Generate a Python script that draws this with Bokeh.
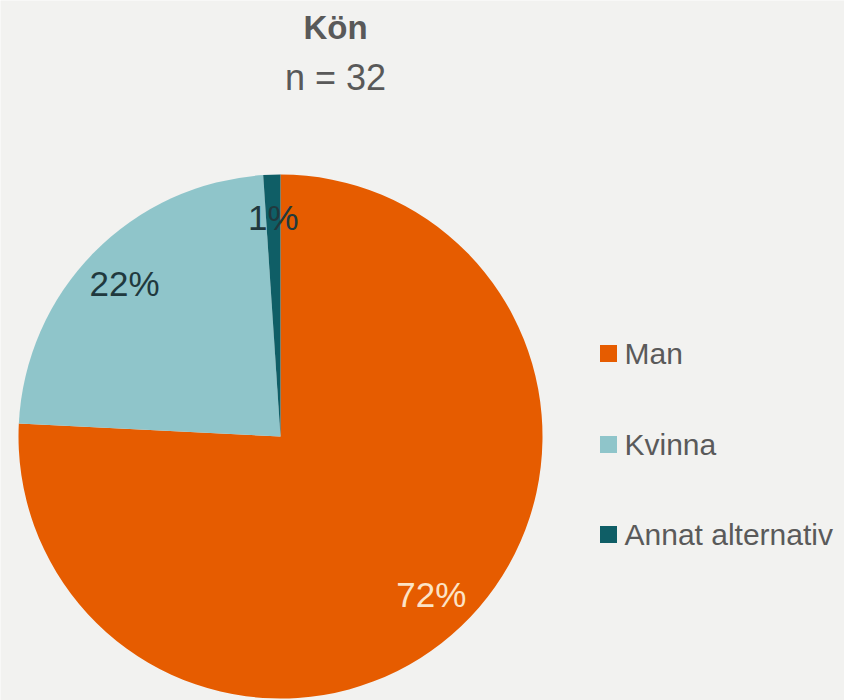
import math
from bokeh.plotting import figure
from bokeh.models import Range1d
from bokeh.core.properties import value
from bokeh.embed import file_html
from bokeh.resources import INLINE

# ---- data ----
categories = ["Man", "Kvinna", "Annat alternativ"]
percent_values = [72, 22, 1]
percent_labels = ["72%", "22%", "1%"]
colors = ["#E65C00", "#8FC5CA", "#0F5E66"]
label_colors = ["#FCE3C6", "#21393E", "#21393E"]
title_text = "Kön"
subtitle_text = "n = 32"

W, H = 844, 700
BG = "#F2F2F0"
p = figure(width=W, height=H, output_backend="svg", toolbar_location=None,
           x_range=Range1d(0, W), y_range=Range1d(0, H), min_border=0)
p.axis.visible = False
p.grid.visible = False
p.outline_line_color = None
p.background_fill_color = BG
p.border_fill_color = BG

# pie geometry (data y = 700 - screen Y)
cx, cy, R = 280, 264, 262
total = float(sum(percent_values))
start = math.pi / 2
starts, ends, lx, ly = [], [], [], []
for v in percent_values:
    sweep = 2 * math.pi * v / total
    end = start - sweep
    starts.append(start)
    ends.append(end)
    mid = (start + end) / 2
    lx.append(cx + 0.835 * R * math.cos(mid))
    ly.append(cy + 0.835 * R * math.sin(mid))
    start = end

p.wedge(x=[cx] * 3, y=[cy] * 3, radius=R, start_angle=starts, end_angle=ends,
        direction="clock", fill_color=colors, line_color=None)

p.text(x=lx, y=ly, text=percent_labels, text_color=label_colors,
       text_font=value("Liberation Sans"), text_font_size="35px",
       text_align="center", text_baseline="middle")

# titles
p.text(x=[335], y=[673], text=[title_text], text_color="#595959",
       text_font=value("Liberation Sans"), text_font_size="33px", text_font_style="bold",
       text_align="center", text_baseline="middle")
p.text(x=[335], y=[623], text=[subtitle_text], text_color="#595959",
       text_font=value("Liberation Sans"), text_font_size="36px",
       text_align="center", text_baseline="middle")

# legend
leg_y = [347, 256, 166]
p.scatter(x=[608] * 3, y=leg_y, marker="square", size=17, fill_color=colors, line_color=None)
p.text(x=[624] * 3, y=leg_y, text=categories, text_color="#5A5A5A",
       text_font=value("Liberation Sans"), text_font_size="30px",
       text_align="left", text_baseline="middle")

html = file_html(p, INLINE)
html = html.replace("<body>", '<body style="background-color:#f2f2f0;">', 1)
open("out.html", "w").write(html)
